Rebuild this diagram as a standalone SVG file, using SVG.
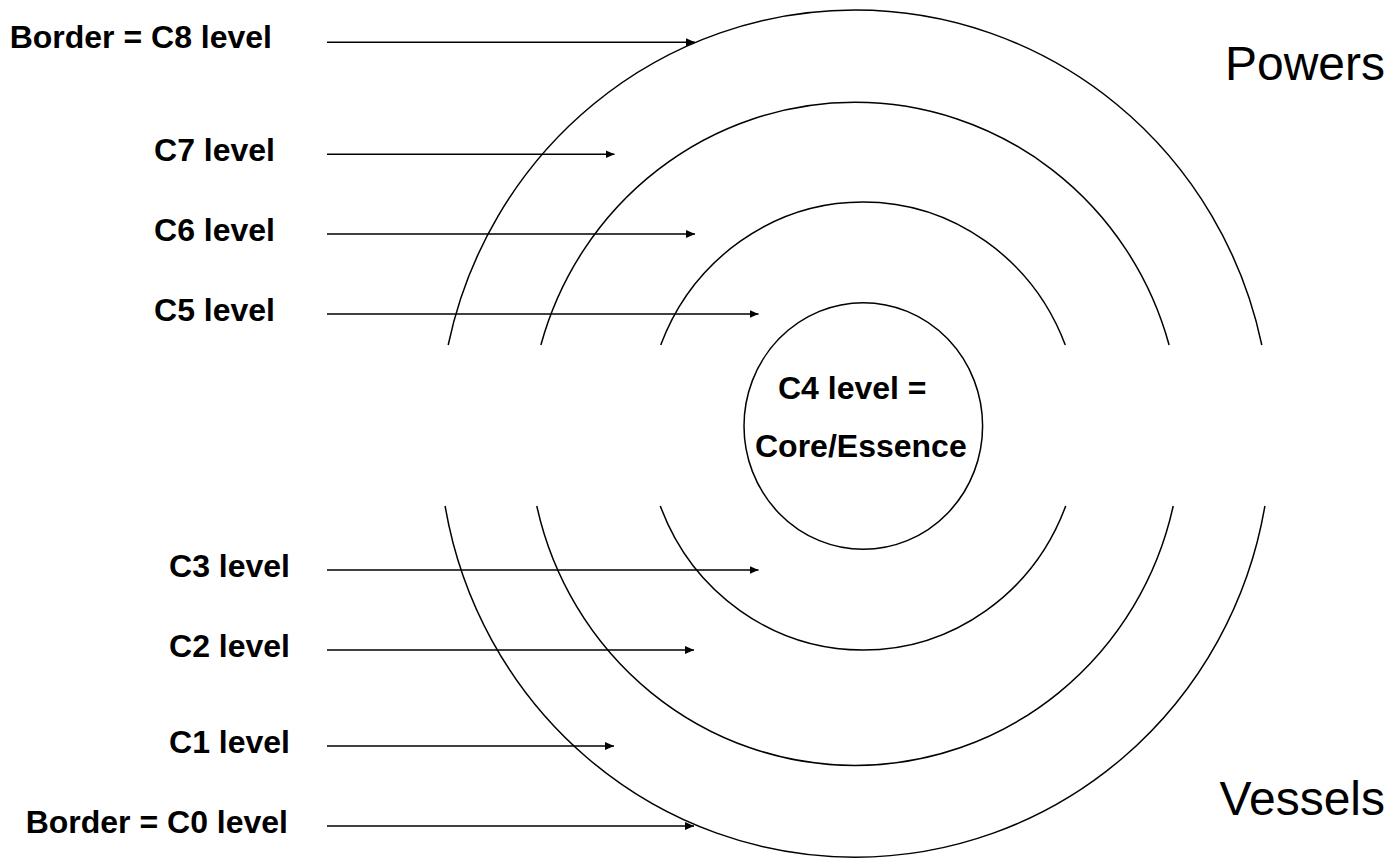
<svg xmlns="http://www.w3.org/2000/svg" width="1393" height="858" viewBox="0 0 1393 858">
  <defs>
    <style>
      .ring { fill: none; stroke: #000; stroke-width: 1.5; }
      .arrow { fill: none; stroke: #000; stroke-width: 1.6; marker-end: url(#head); }
      .lbl { font-family: "Liberation Sans", Arial, sans-serif; font-weight: bold; font-size: 32px; fill: #000; }
      .big { font-family: "Liberation Sans", Arial, sans-serif; font-size: 48px; fill: #000; }
    </style>
    <marker id="head" markerUnits="userSpaceOnUse" markerWidth="10" markerHeight="9" refX="9" refY="4.5" orient="auto">
      <path d="M0,0.5 L9,4.5 L0,8.5 z" fill="#000"/>
    </marker>
  </defs>
  <rect width="1393" height="858" fill="#fff"/>

  <g id="ring-outer">
    <path class="ring" d="M448.2,345 A416,423.5 0 0 1 1261.8,345"/>
    <path class="ring" d="M1264.9,506 A416,423.5 0 0 1 445.1,506"/>
  </g>
  <g id="ring-middle">
    <path class="ring" d="M540.9,345 A326,331.5 0 0 1 1169.1,345"/>
    <path class="ring" d="M1173.2,506 A326,331.5 0 0 1 536.8,506"/>
  </g>
  <g id="ring-inner">
    <path class="ring" d="M660.7,345 A217,224 0 0 1 1065.3,345"/>
    <path class="ring" d="M1065.7,506 A217,224 0 0 1 660.3,506"/>
  </g>
  <g id="core">
    <ellipse class="ring" cx="863.3" cy="426" rx="119.3" ry="123.3"/>
    <text class="lbl" x="778" y="399">C4 level =</text>
    <text class="lbl" x="755" y="456.5">Core/Essence</text>
  </g>

  <g id="label-c8"><text class="lbl" x="272" y="48.3" text-anchor="end">Border = C8 level</text></g>
  <g id="label-c7"><text class="lbl" x="275" y="160.7" text-anchor="end">C7 level</text></g>
  <g id="label-c6"><text class="lbl" x="275" y="240.7" text-anchor="end">C6 level</text></g>
  <g id="label-c5"><text class="lbl" x="275" y="320.7" text-anchor="end">C5 level</text></g>
  <g id="label-c3"><text class="lbl" x="290" y="576.7" text-anchor="end">C3 level</text></g>
  <g id="label-c2"><text class="lbl" x="290" y="656.7" text-anchor="end">C2 level</text></g>
  <g id="label-c1"><text class="lbl" x="290" y="752.7" text-anchor="end">C1 level</text></g>
  <g id="label-c0"><text class="lbl" x="288" y="832.7" text-anchor="end">Border = C0 level</text></g>

  <g id="label-powers"><text class="big" x="1385" y="80" text-anchor="end">Powers</text></g>
  <g id="label-vessels"><text class="big" x="1385" y="815" text-anchor="end">Vessels</text></g>

  <g id="connectors">
    <line class="arrow" x1="327" y1="42.3" x2="695" y2="42.3"/>
    <line class="arrow" x1="327" y1="154.3" x2="614.5" y2="154.3"/>
    <line class="arrow" x1="327" y1="234" x2="695" y2="234"/>
    <line class="arrow" x1="327" y1="314" x2="758.5" y2="314"/>
    <line class="arrow" x1="327" y1="570" x2="758.5" y2="570"/>
    <line class="arrow" x1="327" y1="650" x2="694" y2="650"/>
    <line class="arrow" x1="327" y1="746" x2="614" y2="746"/>
    <line class="arrow" x1="327" y1="826" x2="694" y2="826"/>
  </g>
</svg>
